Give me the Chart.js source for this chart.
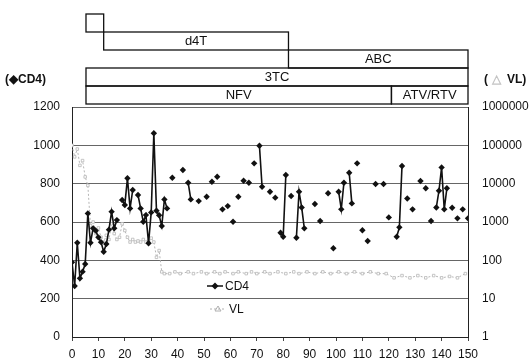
<!DOCTYPE html>
<html>
<head>
<meta charset="utf-8">
<script src="https://cdn.jsdelivr.net/npm/chart.js@4.4.1/dist/chart.umd.min.js"></script>
<style>
  html, body { margin: 0; padding: 0; background: #fff; }
</style>
</head>
<body>
<canvas id="chart1" width="532" height="363"></canvas>
<script>
// CD4 counts (left axis), by week
var cd4Week = [0,1,2,3,4,5,6,7,8,9,10,11,12,13,14,15,16,17,19,20,21,22,23,25,26,27,28,29,30,31,32,33,34,35,36,38,
  42,44,45,48,51,53,55,57,59,61,63,65,67,69,71,72,75,77,79,80,81,83,85,86,87,88,92,94,97,99,
  101,102,103,105,106,108,110,112,115,118,120,123,124,125,127,129,132,134,136,138,139,140,141,142,144,146,148,150];
var cd4Count = [390,266,492,306,341,381,645,492,567,555,520,495,445,485,560,654,567,610,715,689,828,671,767,741,671,601,636,489,650,1063,659,635,579,718,671,831,
  871,805,718,709,732,810,836,666,683,601,732,815,805,906,998,784,758,727,544,523,845,736,518,758,676,567,694,605,750,463,
  758,666,805,857,697,906,557,501,798,798,624,523,572,892,723,666,814,776,605,676,763,885,666,776,674,619,666,619];

// viral load (right axis, log)
var vlWeek = [0,1,2,3,4,5,6,7,8,9,10,11,12,13,14,15,16,17,18,19,20,21,22,23,24,25,26,27,28,29,30,31,32,33,34,35,
  37,39,41,44,46,49,51,54,56,58,61,63,66,68,70,73,75,78,81,84,86,89,92,95,98,101,104,107,110,113,116,119,
  122,125,128,131,134,137,140,143,146,149];
var vlCopies = [100000,50000,80000,30000,40000,15000,9000,800,1000,500,700,400,300,450,350,900,500,350,400,900,600,400,300,350,300,320,300,350,300,320,380,300,120,180,50,45,
  45,50,45,50,45,50,45,50,45,50,45,50,45,50,45,50,45,50,45,50,45,50,45,50,45,50,45,50,45,50,45,45,
  35,40,35,40,35,40,35,38,35,45];

var xTicks = [0,10,20,30,40,50,60,70,80,90,100,110,120,130,140,150];
var vlTicks = [1,10,100,1000,10000,100000,1000000];

// treatment bars on top
var regimenLabels = ['', 'd4T', 'ABC', '3TC', 'NFV', 'ATV/RTV'];
var regimenFrom   = [5.3, 12, 82, 5.3, 5.3, 121];
var regimenTo     = [12, 82, 150, 150, 121, 150];
var regimenRow    = [0, 1, 2, 3, 4, 4];

function withGaps(xs, ys){
  var out = [];
  for (var i = 0; i < xs.length; i++){
    if (i > 0 && xs[i] - xs[i-1] > 1){
      out.push({x: (xs[i] + xs[i-1]) / 2, y: null});
    }
    out.push({x: xs[i], y: ys[i]});
  }
  return out;
}

var vlPoints = [];
for (var i = 0; i < vlWeek.length; i++){
  vlPoints.push({x: vlWeek[i], y: vlCopies[i]});
}

var FONT = '"Liberation Sans", Arial, sans-serif';

var extras = {
  id: 'extras',
  afterDraw: function(chart){
    var ctx = chart.ctx;
    var xs = chart.scales.x;
    ctx.save();
    ctx.strokeStyle = '#111';
    ctx.lineWidth = 1.3;
    ctx.fillStyle = '#111';
    ctx.font = '13px ' + FONT;
    ctx.textAlign = 'center';
    ctx.textBaseline = 'middle';
    for (var i = 0; i < regimenLabels.length; i++){
      var x1 = xs.getPixelForValue(regimenFrom[i]);
      var x2 = xs.getPixelForValue(regimenTo[i]);
      var y1 = 14 + regimenRow[i] * 18;
      ctx.strokeRect(x1, y1, x2 - x1, 18);
      if (regimenLabels[i]) ctx.fillText(regimenLabels[i], (x1 + x2) / 2, y1 + 9.5);
    }

    // axis titles
    ctx.textAlign = 'left';
    ctx.font = 'bold 12px ' + FONT;
    ctx.fillText('(◆CD4)', 5, 80);
    ctx.fillText('(', 484, 80);
    ctx.fillStyle = '#c4c4c4';
    ctx.fillText('△', 492, 80);
    ctx.fillStyle = '#111';
    ctx.fillText('VL)', 507, 80);

    // legend
    ctx.font = '12px ' + FONT;
    ctx.lineWidth = 1.5;
    ctx.beginPath(); ctx.moveTo(207, 286); ctx.lineTo(223, 286); ctx.stroke();
    ctx.beginPath();
    ctx.moveTo(215, 282.5); ctx.lineTo(218.5, 286); ctx.lineTo(215, 289.5); ctx.lineTo(211.5, 286);
    ctx.closePath(); ctx.fill();
    ctx.fillText('CD4', 225, 287);

    ctx.strokeStyle = '#b0b0b0';
    ctx.lineWidth = 1;
    ctx.setLineDash([2, 2]);
    ctx.beginPath(); ctx.moveTo(210, 309); ctx.lineTo(226, 309); ctx.stroke();
    ctx.setLineDash([]);
    ctx.beginPath();
    ctx.moveTo(218, 306); ctx.lineTo(221, 311); ctx.lineTo(215, 311); ctx.closePath(); ctx.stroke();
    ctx.fillStyle = '#111';
    ctx.fillText('VL', 229, 310);
    ctx.restore();
  }
};

new Chart(document.getElementById('chart1'), {
  type: 'line',
  data: {
    datasets: [{
      label: 'CD4',
      data: withGaps(cd4Week, cd4Count),
      yAxisID: 'y',
      borderColor: '#111',
      backgroundColor: '#111',
      borderWidth: 1.6,
      pointStyle: 'rectRot',
      pointRadius: 3.2,
      pointBorderWidth: 0,
      spanGaps: false,
      tension: 0
    }, {
      label: 'VL',
      data: vlPoints,
      yAxisID: 'y2',
      borderColor: '#b5b5b5',
      backgroundColor: '#fff',
      borderWidth: 1,
      borderDash: [2, 2],
      pointStyle: 'rect',
      pointRadius: 1.8,
      pointBorderColor: '#b8b8b8',
      pointBorderWidth: 0.8,
      tension: 0
    }]
  },
  options: {
    responsive: false,
    animation: false,
    layout: { padding: { top: 107, left: 0, right: 0, bottom: 0 } },
    plugins: { legend: { display: false }, tooltip: { enabled: false } },
    scales: {
      x: {
        type: 'linear',
        min: 0,
        max: 150,
        afterBuildTicks: function(scale){ scale.ticks = xTicks.map(function(v){ return {value: v}; }); },
        afterFit: function(scale){ scale.height = 26; },
        grid: { drawOnChartArea: false, drawTicks: true, tickLength: 4, color: '#444' },
        border: { color: '#222', width: 1 },
        ticks: { color: '#111', padding: 6, maxRotation: 0, font: { size: 12, family: FONT },
          callback: function(v){ return String(v); } }
      },
      y: {
        position: 'left',
        min: 0,
        max: 1200,
        ticks: { stepSize: 200, color: '#111', padding: 12, font: { size: 12, family: FONT },
          callback: function(v){ return String(v); } },
        afterFit: function(scale){ scale.width = 72; },
        grid: { color: '#666', drawTicks: false },
        border: { color: '#222', width: 1 }
      },
      y2: {
        type: 'logarithmic',
        position: 'right',
        min: 1,
        max: 1000000,
        afterBuildTicks: function(scale){ scale.ticks = vlTicks.map(function(v){ return {value: v}; }); },
        afterFit: function(scale){ scale.width = 64; },
        ticks: {
          color: '#111', padding: 14, font: { size: 12, family: FONT },
          callback: function(v){ return String(v); }
        },
        grid: { drawOnChartArea: false, drawTicks: false },
        border: { color: '#222', width: 1 }
      }
    }
  },
  plugins: [extras]
});
</script>
</body>
</html>
